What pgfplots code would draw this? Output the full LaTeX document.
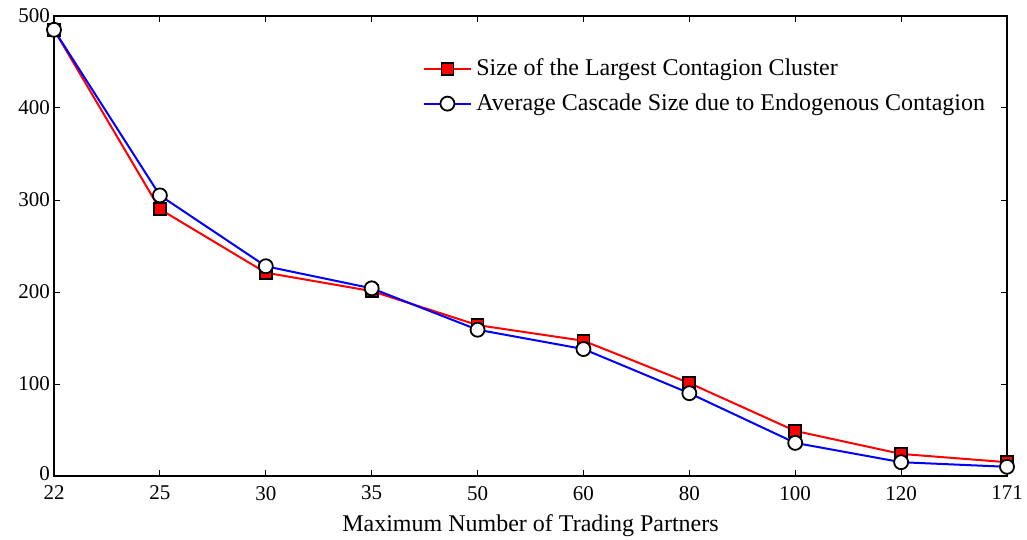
\documentclass[border=0pt]{standalone}
\usepackage{pgfplots}
\pgfplotsset{compat=1.18}
\usetikzlibrary{calc}
\usepackage{fontspec}
\setmainfont{Liberation Serif}

\pgfplotstableread{
idx largest cascade
0 485 485
1 290 305
2 221 228
3 201 204
4 164 159
5 147 138
6 101 90
7 49 36
8 24 15
9 15 10
}\datatable

\begin{document}
\begin{tikzpicture}
\begin{axis}[
  scale only axis,
  width=476.5pt, height=230pt,
  xmin=0, xmax=9, ymin=0, ymax=500,
  xtick={0,...,9},
  xticklabels={22,25,30,35,50,60,80,100,120,171},
  ytick={0,100,...,500},
  yticklabels={\raisebox{2pt}{0},100,200,300,400,500},
  tick align=inside,
  major tick length=3pt,
  tick style={black, line width=0.5pt},
  axis line style={black, line width=0.6pt},
  every tick label/.style={font=\fontsize{10.5}{12}\selectfont},
  /pgf/number format/assume math mode=true,
  xlabel={Maximum Number of Trading Partners},
  xlabel style={font=\fontsize{12}{14}\selectfont, yshift=-0.5pt},
  xticklabel style={yshift=-1.5pt},
  yticklabel style={xshift=1.5pt},
  legend style={draw=none, fill=none, at={(0.38,0.925)}, anchor=north west,
    font=\fontsize{12}{14}\selectfont, row sep=3.5pt},
  legend cell align=left,
  legend image code/.code={\draw[mark repeat=2,mark phase=2] plot coordinates {(0cm,0cm)(0.42cm,0cm)(0.84cm,0cm)};},
]
\addplot[red, line width=1pt, mark=square*, mark size=3pt,
  mark options={fill=red, draw=black, line width=0.9pt}]
  table[x=idx, y=largest]{\datatable};
\addlegendentry{Size of the Largest Contagion Cluster}
\addplot[blue, line width=1pt, mark=*, mark size=3.5pt,
  mark options={fill=white, draw=black, line width=0.9pt}]
  table[x=idx, y=cascade]{\datatable};
\addlegendentry{Average Cascade Size due to Endogenous Contagion}
\end{axis}
\pgfresetboundingbox
\path ($(current axis.south west)+(-27pt,-31.5pt)$) rectangle ($(current axis.north east)+(10pt,8pt)$);
\end{tikzpicture}
\end{document}
